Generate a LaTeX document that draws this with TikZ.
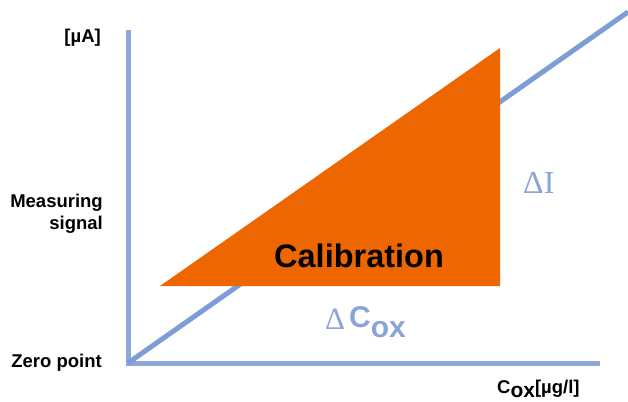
\documentclass[tikz,border=0pt]{standalone}
\usepackage{fontspec}
\setmainfont{Liberation Sans}
\newfontfamily\deltafont{Liberation Serif}
\usetikzlibrary{positioning}
\definecolor{axisblue}{HTML}{8EA7DA}
\definecolor{lineblue}{HTML}{7C9DD5}
\definecolor{textblue}{HTML}{8AA4D8}
\definecolor{calorange}{HTML}{EE6600}

\begin{document}
\begin{tikzpicture}[
x=1pt, y=-1pt,
axis/.style={draw=axisblue, line width=5pt},
curve/.style={draw=lineblue, line width=5pt},
lbl/.style={inner sep=0pt, font=\fontsize{18.5}{22}\selectfont\bfseries, text=black},
dlbl/.style={inner sep=0pt, text=textblue}
]
\useasboundingbox (0,0) rectangle (628,401);
% axes
\coordinate (origin) at (128,363);
\coordinate (ytop) at (128,30);
\coordinate (xend) at (600,363);
\coordinate (lineend) at (628,12);
\draw[axis] (ytop) -- (origin |- 0,365.5);
\draw[axis] (origin -| 125.5,0) -- (xend);
\draw[curve] (origin) -- (lineend);
% calibration triangle
\coordinate (tl) at (160,286);
\coordinate (tr) at (500,286);
\coordinate (tt) at (500,48);
\fill[calorange] (tl) -- (tr) -- (tt) -- cycle;
\node[lbl, anchor=base west, font=\fontsize{32.5}{36}\selectfont\bfseries] (cal) at (274,267) {Calibration};
% axis labels
\node[lbl, anchor=base east] (unit) at (101,43) {[µA]};
\node[lbl, anchor=base east, align=right] (signal) at (103,229) {Measuring\\signal};
\node[lbl, anchor=base east] (zero) at (102,367) {Zero point};
\node[lbl, anchor=base west] (cox) at (497,393) {C\raisebox{-4pt}{\fontsize{21}{22}\selectfont ox}[µg/l]};
% deltas
\node[dlbl, anchor=base west, font=\fontsize{31}{33}\deltafont] (dc) at (325,329) {Δ};
\node[dlbl, anchor=base west, font=\fontsize{30}{32}\selectfont\bfseries] (dcox) at (349,327) {C\raisebox{-10pt}{ox}};
\node[dlbl, anchor=base west, font=\fontsize{32}{34}\deltafont] (di) at (523,193) {ΔI};
\end{tikzpicture}
\end{document}
